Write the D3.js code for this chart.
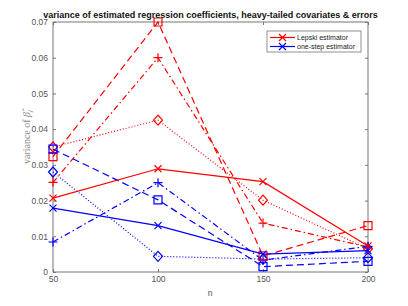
<!DOCTYPE html>
<html lang="en">
<head>
    <meta charset="UTF-8">
    <title>variance of estimated regression coefficients</title>
    <script src="https://cdnjs.cloudflare.com/ajax/libs/d3/7.8.5/d3.min.js"></script>
    <style>
        body { margin: 0; background: #fff; }
        svg { display: block; font-family: "Liberation Sans", Arial, sans-serif; }
    </style>
</head>
<body>
<script>
    var nValues = [50, 100, 150, 200];
    var yTicks = [0, 0.01, 0.02, 0.03, 0.04, 0.05, 0.06, 0.07];

    // Lepski estimator (red)
    var lepskiSolid   = [0.0207, 0.0289, 0.0253, 0.0073];
    var lepskiDashed  = [0.0323, 0.0700, 0.0045, 0.0130];
    var lepskiDashDot = [0.0251, 0.0600, 0.0137, 0.0070];
    var lepskiDotted  = [0.0350, 0.0425, 0.0201, 0.0065];
    // one-step estimator (blue)
    var oneStepSolid   = [0.0179, 0.0130, 0.0050, 0.0060];
    var oneStepDashed  = [0.0344, 0.0202, 0.0015, 0.0030];
    var oneStepDashDot = [0.0084, 0.0250, 0.0033, 0.0072];
    var oneStepDotted  = [0.0280, 0.0044, 0.0036, 0.0040];

    var width = 408, height = 306;
    var plotLeft = 53, plotRight = 368, plotTop = 22, plotBottom = 272;

    var red = "#ff0000", blue = "#0000ff", axisGrey = "#555";

    var series = [
        {values: lepskiDotted,   color: red,  dash: "1,2",         marker: "diamond"},
        {values: oneStepDotted,  color: blue, dash: "1,2",         marker: "diamond"},
        {values: lepskiDashDot,  color: red,  dash: "6,3,1.5,3",   marker: "plus"},
        {values: oneStepDashDot, color: blue, dash: "6,3,1.5,3",   marker: "plus"},
        {values: lepskiDashed,   color: red,  dash: "7,4",         marker: "square"},
        {values: oneStepDashed,  color: blue, dash: "7,4",         marker: "square"},
        {values: oneStepSolid,   color: blue, dash: null,          marker: "cross"},
        {values: lepskiSolid,    color: red,  dash: null,          marker: "cross"}
    ];

    var svg = d3.select("body").append("svg")
        .attr("width", width)
        .attr("height", height);

    var x = d3.scaleLinear().domain([50, 200]).range([plotLeft, plotRight]);
    var y = d3.scaleLinear().domain([0, 0.07]).range([plotBottom, plotTop]);

    // box
    svg.append("rect")
        .attr("x", plotLeft).attr("y", plotTop)
        .attr("width", plotRight - plotLeft).attr("height", plotBottom - plotTop)
        .attr("fill", "none").attr("stroke", "#777").attr("stroke-width", 1);

    // axes
    var xAxis = svg.append("g").attr("transform", "translate(0," + plotBottom + ")")
        .call(d3.axisBottom(x).tickValues(nValues).tickSize(-3).tickPadding(4));
    var xAxisTop = svg.append("g").attr("transform", "translate(0," + plotTop + ")")
        .call(d3.axisTop(x).tickValues(nValues).tickSize(-3).tickFormat(""));
    var yAxis = svg.append("g").attr("transform", "translate(" + plotLeft + ",0)")
        .call(d3.axisLeft(y).tickValues(yTicks).tickSize(-3).tickPadding(5)
            .tickFormat(function(d){ return d === 0 ? "0" : d3.format(".2f")(d); }));
    var yAxisRight = svg.append("g").attr("transform", "translate(" + plotRight + ",0)")
        .call(d3.axisRight(y).tickValues(yTicks).tickSize(-3).tickFormat(""));

    [xAxis, xAxisTop, yAxis, yAxisRight].forEach(function(g){
        g.select(".domain").remove();
        g.selectAll(".tick line").attr("stroke", "#777");
        g.selectAll(".tick text").attr("fill", axisGrey).attr("font-size", "8.5px")
            .attr("font-family", "Liberation Sans, Arial, sans-serif");
    });

    // lines
    var line = d3.line()
        .x(function(d, i){ return x(nValues[i]); })
        .y(function(d){ return y(d); });

    var markerPath = {
        cross: "M-3.5,-3.5L3.5,3.5M-3.5,3.5L3.5,-3.5",
        plus: "M-4.5,0L4.5,0M0,-4.5L0,4.5",
        square: "M-4,-4L4,-4L4,4L-4,4Z",
        diamond: "M0,-5L4.5,0L0,5L-4.5,0Z"
    };

    series.forEach(function(s){
        svg.append("path")
            .datum(s.values)
            .attr("d", line)
            .attr("fill", "none")
            .attr("stroke", s.color)
            .attr("stroke-width", 1.2)
            .attr("stroke-dasharray", s.dash);

        svg.selectAll(null).data(s.values).enter().append("path")
            .attr("transform", function(d, i){ return "translate(" + x(nValues[i]) + "," + y(d) + ")"; })
            .attr("d", markerPath[s.marker])
            .attr("fill", "none")
            .attr("stroke", s.color)
            .attr("stroke-width", 1.2);
    });

    // title
    svg.append("text")
        .attr("x", (plotLeft + plotRight) / 2).attr("y", 18)
        .attr("text-anchor", "middle")
        .attr("font-size", "9px").attr("font-weight", "bold")
        .attr("fill", "#111")
        .text("variance of estimated regression coefficients, heavy-tailed covariates & errors");

    // axis labels
    svg.append("text")
        .attr("x", 210).attr("y", 296)
        .attr("text-anchor", "middle")
        .attr("font-size", "8.5px").attr("fill", axisGrey)
        .text("n");

    var yl = svg.append("text")
        .attr("transform", "translate(30,137) rotate(-90)")
        .attr("text-anchor", "middle")
        .attr("font-family", "Liberation Serif, Times New Roman, serif")
        .attr("font-size", "10px").attr("fill", "#888");
    yl.append("tspan").text("variance of ");
    yl.append("tspan").attr("font-style", "italic").text("β\u0302");
    yl.append("tspan").attr("font-style", "italic").attr("font-size", "7px").attr("dy", 2).text("j");

    // legend
    var legendItems = [
        {label: "Lepski estimator", color: red},
        {label: "one-step estimator", color: blue}
    ];
    var lg = svg.append("g");
    lg.append("rect")
        .attr("x", 267).attr("y", 31).attr("width", 94).attr("height", 21)
        .attr("fill", "#fff").attr("stroke", "#777").attr("stroke-width", 0.8);
    legendItems.forEach(function(d, i){
        var ly = 37.5 + i * 9;
        lg.append("line")
            .attr("x1", 270).attr("x2", 295).attr("y1", ly).attr("y2", ly)
            .attr("stroke", d.color).attr("stroke-width", 1.2);
        lg.append("path")
            .attr("transform", "translate(282.5," + ly + ")")
            .attr("d", markerPath.cross)
            .attr("fill", "none").attr("stroke", d.color).attr("stroke-width", 1.2);
        lg.append("text")
            .attr("x", 297).attr("y", ly + 2.5)
            .attr("font-size", "7px").attr("fill", "#222")
            .text(d.label);
    });
</script>
</body>
</html>
